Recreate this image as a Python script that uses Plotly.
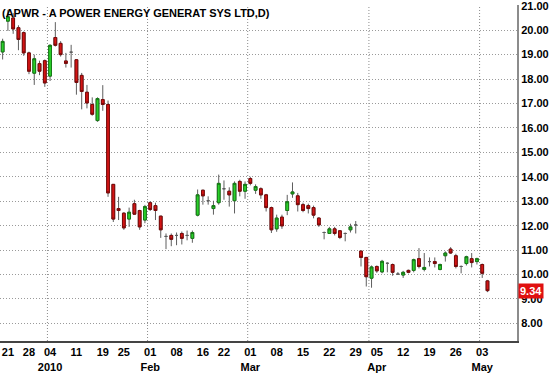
import plotly.graph_objects as go
from datetime import date

dates = [
    "2009-12-18", "2009-12-21", "2009-12-22", "2009-12-23", "2009-12-24",
    "2009-12-28", "2009-12-29", "2009-12-30", "2009-12-31",
    "2010-01-04", "2010-01-05", "2010-01-06", "2010-01-07", "2010-01-08",
    "2010-01-11", "2010-01-12", "2010-01-13", "2010-01-14", "2010-01-15",
    "2010-01-19", "2010-01-20", "2010-01-21", "2010-01-22",
    "2010-01-25", "2010-01-26", "2010-01-27", "2010-01-28", "2010-01-29",
    "2010-02-01", "2010-02-02", "2010-02-03", "2010-02-04", "2010-02-05",
    "2010-02-08", "2010-02-09", "2010-02-10", "2010-02-11", "2010-02-12",
    "2010-02-16", "2010-02-17", "2010-02-18", "2010-02-19",
    "2010-02-22", "2010-02-23", "2010-02-24", "2010-02-25", "2010-02-26",
    "2010-03-01", "2010-03-02", "2010-03-03", "2010-03-04", "2010-03-05",
    "2010-03-08", "2010-03-09", "2010-03-10", "2010-03-11", "2010-03-12",
    "2010-03-15", "2010-03-16", "2010-03-17", "2010-03-18", "2010-03-19",
    "2010-03-22", "2010-03-23", "2010-03-24", "2010-03-25", "2010-03-26",
    "2010-03-29", "2010-03-30", "2010-03-31", "2010-04-01",
    "2010-04-05", "2010-04-06", "2010-04-07", "2010-04-08", "2010-04-09",
    "2010-04-12", "2010-04-13", "2010-04-14", "2010-04-15", "2010-04-16",
    "2010-04-19", "2010-04-20", "2010-04-21", "2010-04-22", "2010-04-23",
    "2010-04-26", "2010-04-27", "2010-04-28", "2010-04-29", "2010-04-30",
    "2010-05-03", "2010-05-04",
]

opens = [
    19.11, 20.37, 20.50, 20.10, 19.90, 19.07, 18.24, 18.63, 18.75,
    18.12, 19.70, 19.46, 18.74, 19.10, 18.79, 18.15, 17.46, 16.96, 16.30,
    17.16, 16.96, 13.69, 12.70, 12.51, 12.27, 12.90, 12.62, 12.23,
    12.94, 12.82, 12.39, 11.56, 11.60, 11.60, 11.68, 11.60, 11.48, 12.43,
    13.45, 13.02, 12.70, 12.94, 13.51, 13.41, 13.02, 13.81, 13.41,
    13.93, 13.45, 13.51, 13.26, 12.74, 11.87, 12.35, 12.62, 13.30, 13.22,
    12.86, 12.82, 12.74, 12.31, 11.72, 11.68, 11.87, 11.79, 11.68, 11.83,
    12.03, 10.96, 10.70, 9.85,
    10.33, 10.11, 10.46, 10.41, 10.02, 9.98, 10.17, 10.17, 10.65, 10.21,
    10.53, 10.53, 10.21, 10.77, 11.04, 10.77, 10.33, 10.45, 10.65, 10.53,
    10.41, 9.74,
]
highs = [
    19.65, 20.83, 20.70, 20.20, 19.95, 19.12, 19.00, 18.75, 18.80,
    19.42, 20.33, 19.55, 19.07, 19.40, 18.82, 18.25, 17.76, 17.25, 17.25,
    17.75, 17.12, 13.70, 13.18, 12.55, 12.74, 13.06, 12.65, 12.85,
    13.00, 12.94, 12.40, 11.68, 11.68, 11.72, 11.76, 11.80, 11.80, 13.48,
    13.47, 13.20, 13.02, 14.09, 13.85, 13.57, 13.81, 13.88, 13.81,
    14.00, 13.69, 13.57, 13.30, 12.78, 12.45, 12.45, 13.26, 13.77, 13.34,
    12.94, 12.90, 12.82, 12.35, 11.76, 11.95, 11.95, 11.82, 11.72, 12.08,
    12.19, 10.97, 10.72, 10.37,
    10.37, 10.60, 10.50, 10.45, 10.10, 10.15, 10.20, 10.65, 11.08, 10.88,
    10.70, 10.70, 10.45, 10.95, 11.12, 10.85, 10.37, 10.77, 10.88, 10.69,
    10.45, 9.78,
]
lows = [
    18.80, 19.97, 19.85, 19.18, 18.95, 18.20, 17.76, 18.16, 17.68,
    17.92, 19.33, 18.92, 18.47, 18.47, 17.36, 16.76, 16.80, 16.50, 16.25,
    16.70, 13.18, 12.15, 12.23, 11.83, 11.95, 12.45, 11.83, 12.10,
    12.60, 12.23, 11.50, 11.04, 11.16, 11.20, 11.23, 11.40, 11.30, 12.38,
    12.86, 12.86, 12.45, 12.86, 13.06, 12.78, 12.50, 13.20, 13.10,
    13.65, 13.30, 13.10, 12.58, 11.70, 11.75, 11.87, 12.43, 13.14, 12.58,
    12.55, 12.50, 12.30, 11.95, 11.44, 11.68, 11.60, 11.45, 11.36, 11.72,
    11.68, 10.33, 9.51, 9.46,
    10.07, 10.05, 10.09, 9.95, 9.98, 9.86, 10.05, 10.09, 10.25, 10.13,
    10.33, 10.29, 10.17, 10.53, 10.85, 10.25, 10.05, 10.37, 10.29, 10.41,
    9.86, 9.28,
]
closes = [
    19.54, 20.55, 20.05, 19.62, 19.07, 18.32, 18.83, 18.32, 17.84,
    19.38, 19.38, 19.00, 18.64, 19.10, 17.86, 17.49, 17.02, 16.56, 17.20,
    16.96, 13.34, 12.27, 12.62, 11.91, 12.55, 12.47, 11.95, 12.78,
    12.66, 12.62, 11.83, 11.56, 11.44, 11.60, 11.48, 11.60, 11.72, 13.26,
    13.22, 13.02, 12.82, 13.73, 13.51, 13.26, 13.73, 13.41, 13.69,
    13.73, 13.60, 13.26, 12.74, 11.83, 12.31, 11.99, 12.98, 13.38, 12.86,
    12.62, 12.70, 12.43, 12.03, 11.72, 11.87, 11.68, 11.52, 11.68, 11.95,
    12.03, 10.70, 9.91, 10.31,
    10.15, 10.54, 10.46, 10.09, 10.02, 10.09, 10.09, 10.61, 10.33, 10.29,
    10.53, 10.45, 10.41, 10.88, 10.88, 10.33, 10.33, 10.73, 10.49, 10.65,
    10.05, 9.34,
]

title_text = "(APWR - A POWER ENERGY GENERAT SYS LTD,D)"
last_price = closes[-1]
y_ticks = list(range(8, 22))

# ---- derived positions from the data ----
d_objs = [date.fromisoformat(d) for d in dates]
xs = list(range(len(dates)))

tickvals, ticktext = [], []
prev_week, prev_tick_month = None, None
for i, d in enumerate(d_objs):
    wk = d.isocalendar()[:2]
    if prev_week is not None and wk != prev_week:
        label = d.strftime("%d")
        if prev_tick_month is not None and d.month != prev_tick_month:
            label += "<br>" + (str(d.year) if d.month == 1 else d.strftime("%b"))
        tickvals.append(i)
        ticktext.append(label)
        prev_tick_month = d.month
    prev_week = wk

month_breaks = [i - 0.5 for i in range(1, len(d_objs)) if d_objs[i].month != d_objs[i - 1].month]

body_o = [o if o != c else None for o, c in zip(opens, closes)]
body_c = [c if o != c else None for o, c in zip(opens, closes)]
body_h = [max(o, c) if o != c else None for o, c in zip(opens, closes)]
body_l = [min(o, c) if o != c else None for o, c in zip(opens, closes)]

fig = go.Figure()
# wicks (and doji crosses)
fig.add_trace(go.Candlestick(
    x=xs, open=opens, high=highs, low=lows, close=closes,
    increasing=dict(line=dict(color="#5e5e5e", width=1), fillcolor="#5e5e5e"),
    decreasing=dict(line=dict(color="#5e5e5e", width=1), fillcolor="#5e5e5e"),
    whiskerwidth=0, showlegend=False, hoverinfo="skip",
))
# bodies
fig.add_trace(go.Candlestick(
    x=xs, open=body_o, high=body_h, low=body_l, close=body_c,
    increasing=dict(line=dict(color="#157a15", width=1), fillcolor="#2ad12a"),
    decreasing=dict(line=dict(color="#7a0a0a", width=1), fillcolor="#d41414"),
    whiskerwidth=0, showlegend=False,
))

for xb in month_breaks:
    fig.add_shape(type="line", xref="x", yref="paper", x0=xb, x1=xb, y0=0, y1=1,
                  line=dict(color="#8c8c8c", width=1, dash="1px,2px"), layer="below")

fig.add_annotation(xref="paper", yref="paper", x=0, y=1, xanchor="left", yanchor="top",
                   text=title_text, showarrow=False,
                   font=dict(family="Liberation Sans", size=11, color="black", weight="bold"))
fig.add_annotation(xref="paper", yref="y", x=1, y=last_price, xanchor="left", yanchor="middle",
                   text="%.2f" % last_price, showarrow=False, bgcolor="#e01010",
                   borderpad=1, xshift=1,
                   font=dict(family="Liberation Sans", size=11, color="white", weight="bold"))

fig.update_layout(
    width=550, height=373,
    margin=dict(l=0, r=33, t=0, b=24),
    paper_bgcolor="white", plot_bgcolor="white",
    boxgap=0.25,
    xaxis=dict(
        range=[-0.5, 97.6], rangeslider=dict(visible=False),
        tickmode="array", tickvals=tickvals, ticktext=ticktext,
        showgrid=False, zeroline=False,
        showline=True, linecolor="#444444", linewidth=2,
        ticks="", tickfont=dict(family="Liberation Sans", size=11, color="black", weight="bold"),
    ),
    yaxis=dict(
        side="right", range=[7.28, 21.03],
        tickmode="array", tickvals=y_ticks, ticktext=["%.2f" % v for v in y_ticks],
        ticklabeloverflow="allow",
        showgrid=True, gridcolor="#9a9a9a", griddash="1px,2px", gridwidth=1,
        zeroline=False, showline=True, linecolor="#8c8c8c", linewidth=2,
        ticks="", tickfont=dict(family="Liberation Sans", size=11, color="black", weight="bold"),
    ),
)

fig.write_html("out.html")
